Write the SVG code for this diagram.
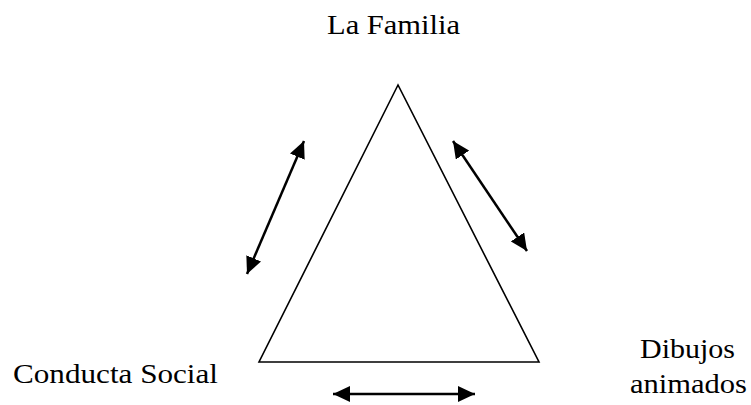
<svg xmlns="http://www.w3.org/2000/svg" width="751" height="405" viewBox="0 0 751 405">
<defs>
<style>
.lbl{font-family:'Liberation Serif','DejaVu Serif',serif;font-size:28px;fill:#000}
.arr{stroke:#000;stroke-width:2.5;fill:none}
</style>
<marker id="ah" markerUnits="userSpaceOnUse" markerWidth="18" markerHeight="16" refX="17" refY="8" orient="auto-start-reverse" viewBox="0 0 18 16">
<path d="M0,0 L17,8 L0,16 z" fill="#000"/>
</marker>
</defs>
<rect width="751" height="405" fill="#fff"/>
<g id="triangle">
<polygon points="398,85 259,362 539,362" fill="none" stroke="#000" stroke-width="1.6"/>
</g>
<g id="node-familia"><text class="lbl" x="327" y="34" textLength="133" lengthAdjust="spacingAndGlyphs">La Familia</text></g>
<g id="node-conducta"><text class="lbl" x="13" y="383" textLength="205" lengthAdjust="spacingAndGlyphs">Conducta Social</text></g>
<g id="node-dibujos"><text class="lbl" x="640" y="358" textLength="95" lengthAdjust="spacingAndGlyphs">Dibujos</text><text class="lbl" x="630" y="393" textLength="117" lengthAdjust="spacingAndGlyphs">animados</text></g>
<g id="connectors">
<line class="arr" x1="247" y1="274" x2="304" y2="141" marker-start="url(#ah)" marker-end="url(#ah)"/>
<line class="arr" x1="453" y1="141" x2="527" y2="251" marker-start="url(#ah)" marker-end="url(#ah)"/>
<line class="arr" x1="333" y1="394" x2="475" y2="394" marker-start="url(#ah)" marker-end="url(#ah)"/>
</g>
</svg>
